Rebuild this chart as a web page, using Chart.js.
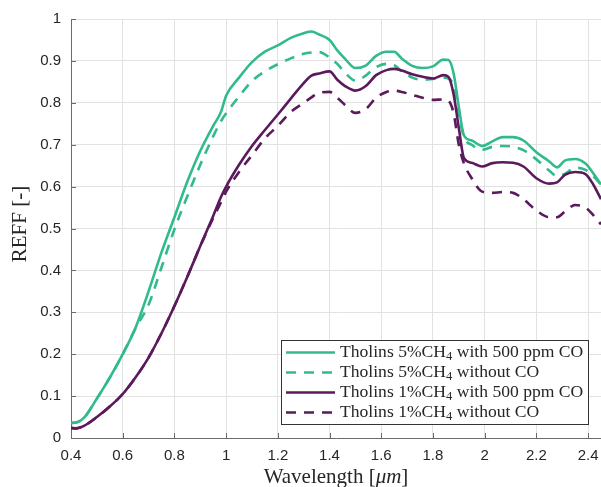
<!DOCTYPE html>
<html>
<head>
<meta charset="utf-8">
<script src="https://cdn.jsdelivr.net/npm/chart.js@4.4.1/dist/chart.umd.min.js"></script>
<style>
  html, body { margin: 0; padding: 0; background: #fff; }
  #wrap { width: 601px; height: 487px; }
</style>
</head>
<body>
<div id="wrap"><canvas id="reffChart" width="601" height="487"></canvas></div>
<script>
// wavelength grid [um] shared by the four curves
const wavelength = [0.40, 0.42, 0.45, 0.50, 0.55, 0.60, 0.65, 0.70, 0.75, 0.80, 0.85, 0.90, 0.95, 0.98, 1.00,
    1.05, 1.10, 1.15, 1.20, 1.25, 1.30, 1.33, 1.36, 1.40, 1.43, 1.46, 1.50, 1.54, 1.58, 1.62, 1.65, 1.68,
    1.72, 1.76, 1.80, 1.84, 1.86, 1.88, 1.90, 1.92, 1.95, 1.99, 2.03, 2.07, 2.11, 2.15, 2.20, 2.25, 2.28,
    2.31, 2.35, 2.39, 2.42, 2.45];

const tholins5WithCO = [0.036, 0.037, 0.048, 0.094, 0.144, 0.200, 0.264, 0.350, 0.443, 0.527, 0.612, 0.685, 0.745, 0.778, 0.817,
    0.860, 0.897, 0.922, 0.937, 0.955, 0.966, 0.970, 0.963, 0.950, 0.925, 0.905, 0.883, 0.889, 0.912, 0.922, 0.922, 0.905,
    0.888, 0.883, 0.887, 0.903, 0.902, 0.870, 0.790, 0.722, 0.710, 0.697, 0.708, 0.718, 0.718, 0.710, 0.682, 0.660, 0.646,
    0.662, 0.666, 0.655, 0.632, 0.605];

const tholins5NoCO = [0.036, 0.037, 0.048, 0.094, 0.144, 0.200, 0.262, 0.318, 0.407, 0.498, 0.577, 0.652, 0.720, 0.756, 0.775,
    0.815, 0.852, 0.875, 0.892, 0.906, 0.917, 0.920, 0.921, 0.908, 0.893, 0.872, 0.853, 0.865, 0.885, 0.893, 0.890, 0.875,
    0.860, 0.855, 0.857, 0.860, 0.858, 0.840, 0.775, 0.718, 0.700, 0.688, 0.695, 0.697, 0.695, 0.687, 0.665, 0.638, 0.625,
    0.630, 0.645, 0.640, 0.625, 0.605];

const tholins1WithCO = [0.024, 0.023, 0.029, 0.050, 0.075, 0.105, 0.145, 0.192, 0.250, 0.315, 0.385, 0.458, 0.530, 0.575, 0.600,
    0.652, 0.697, 0.735, 0.772, 0.810, 0.847, 0.865, 0.870, 0.875, 0.855, 0.840, 0.829, 0.840, 0.866, 0.878, 0.881, 0.877,
    0.868, 0.862, 0.858, 0.866, 0.862, 0.820, 0.740, 0.668, 0.657, 0.648, 0.656, 0.658, 0.657, 0.648, 0.620, 0.607, 0.610,
    0.628, 0.635, 0.630, 0.605, 0.570];

const tholins1NoCO = [0.024, 0.023, 0.029, 0.050, 0.075, 0.105, 0.145, 0.192, 0.250, 0.315, 0.385, 0.458, 0.525, 0.562, 0.588,
    0.635, 0.675, 0.715, 0.745, 0.778, 0.800, 0.813, 0.824, 0.826, 0.812, 0.795, 0.776, 0.785, 0.812, 0.826, 0.829, 0.826,
    0.819, 0.812, 0.807, 0.808, 0.805, 0.775, 0.700, 0.655, 0.620, 0.588, 0.585, 0.587, 0.585, 0.570, 0.543, 0.527, 0.527,
    0.540, 0.556, 0.550, 0.532, 0.510];

const seriesLabels = [
    'Tholins 5%CH₄ with 500 ppm CO',
    'Tholins 5%CH₄ without CO',
    'Tholins 1%CH₄ with 500 ppm CO',
    'Tholins 1%CH₄ without CO'
];

const xTicks = [0.4, 0.6, 0.8, 1, 1.2, 1.4, 1.6, 1.8, 2, 2.2, 2.4];
const yTicks = [0, 0.1, 0.2, 0.3, 0.4, 0.5, 0.6, 0.7, 0.8, 0.9, 1];

const GREEN = '#31bb8c';
const PURPLE = '#5a1a5b';
const AXIS_COLOR = '#6b6b6b';
const TEXT_COLOR = '#262626';
const GRID_COLOR = '#e2e2e2';
const DASH = [10, 8];
const SERIF = '"Liberation Serif"';

function toPoints(values) {
    return wavelength.map((x, i) => ({ x, y: values[i] }));
}

function makeDataset(label, values, color, dashed, order) {
    return {
        label,
        data: toPoints(values),
        borderColor: color,
        backgroundColor: color,
        borderWidth: 2.6,
        borderDash: dashed ? DASH : [],
        pointRadius: 0,
        fill: false,
        cubicInterpolationMode: 'monotone',
        order
    };
}

const decorPlugin = {
    id: 'decor',
    afterDraw(chart) {
        const { ctx, chartArea } = chart;
        drawInwardTicks(ctx, chart.scales.x, chart.scales.y, chartArea);
        drawAxisTitles(ctx);
        drawLegendBox(ctx, chart.data.datasets);
    }
};

function drawInwardTicks(ctx, xScale, yScale, area) {
    ctx.save();
    ctx.strokeStyle = AXIS_COLOR;
    ctx.lineWidth = 1;
    ctx.beginPath();
    xTicks.forEach(v => {
        const px = Math.round(xScale.getPixelForValue(v)) + 0.5;
        ctx.moveTo(px, area.bottom);
        ctx.lineTo(px, area.bottom - 5);
    });
    yTicks.forEach(v => {
        const py = Math.round(yScale.getPixelForValue(v)) + 0.5;
        ctx.moveTo(area.left, py);
        ctx.lineTo(area.left + 5, py);
    });
    ctx.stroke();
    ctx.restore();
}

function drawAxisTitles(ctx) {
    ctx.save();
    ctx.fillStyle = TEXT_COLOR;
    ctx.textBaseline = 'middle';

    // y title, rotated
    ctx.save();
    ctx.translate(20, 224);
    ctx.rotate(-Math.PI / 2);
    ctx.font = `21px ${SERIF}`;
    ctx.textAlign = 'center';
    ctx.fillText('REFF [-]', 0, 0);
    ctx.restore();

    // x title with italic unit
    const parts = [
        { text: 'Wavelength [', font: `21px ${SERIF}` },
        { text: 'μm', font: `italic 21px ${SERIF}` },
        { text: ']', font: `21px ${SERIF}` }
    ];
    let total = 0;
    parts.forEach(p => { ctx.font = p.font; p.w = ctx.measureText(p.text).width; total += p.w; });
    let x = 336 - total / 2;
    ctx.textAlign = 'left';
    parts.forEach(p => {
        ctx.font = p.font;
        ctx.fillText(p.text, x, 477);
        x += p.w;
    });
    ctx.restore();
}

function drawLabel(ctx, text, x, y) {
    const [before, after] = text.split('₄');
    ctx.font = `17.6px ${SERIF}`;
    ctx.fillText(before, x, y);
    x += ctx.measureText(before).width;
    ctx.font = `12.5px ${SERIF}`;
    ctx.fillText('4', x, y + 4);
    x += ctx.measureText('4').width;
    ctx.font = `17.6px ${SERIF}`;
    ctx.fillText(after, x, y);
}

function drawLegendBox(ctx, datasets) {
    const box = { left: 281.5, top: 340.5, right: 588.5, bottom: 424.5 };
    ctx.save();
    ctx.fillStyle = '#fff';
    ctx.fillRect(box.left, box.top, box.right - box.left, box.bottom - box.top);
    ctx.strokeStyle = '#333';
    ctx.lineWidth = 1;
    ctx.strokeRect(box.left, box.top, box.right - box.left, box.bottom - box.top);

    ctx.textBaseline = 'middle';
    ctx.textAlign = 'left';
    datasets.forEach((ds, i) => {
        const rowY = 352.5 + i * 20;
        ctx.strokeStyle = ds.borderColor;
        ctx.lineWidth = 2.6;
        ctx.setLineDash(ds.borderDash);
        ctx.beginPath();
        ctx.moveTo(286, rowY);
        ctx.lineTo(335, rowY);
        ctx.stroke();
        ctx.setLineDash([]);
        ctx.fillStyle = TEXT_COLOR;
        drawLabel(ctx, ds.label, 340, rowY);
    });
    ctx.restore();
}

const tickFont = { family: 'Liberation Sans', size: 15 };

new Chart(document.getElementById('reffChart'), {
    type: 'line',
    data: {
        datasets: [
            makeDataset(seriesLabels[0], tholins5WithCO, GREEN, false, 4),
            makeDataset(seriesLabels[1], tholins5NoCO, GREEN, true, 3),
            makeDataset(seriesLabels[2], tholins1WithCO, PURPLE, false, 2),
            makeDataset(seriesLabels[3], tholins1NoCO, PURPLE, true, 1)
        ]
    },
    options: {
        responsive: false,
        animation: false,
        layout: { padding: { top: 19, right: 0, left: 0, bottom: 0 } },
        plugins: {
            legend: { display: false },
            tooltip: { enabled: false }
        },
        scales: {
            x: {
                type: 'linear',
                min: 0.4,
                max: 2.45,
                afterBuildTicks: axis => { axis.ticks = xTicks.map(v => ({ value: v })); },
                afterFit: axis => {
                    axis.height = 49;
                    axis.paddingLeft = 0;
                    axis.paddingRight = 0;
                },
                grid: { color: GRID_COLOR, drawTicks: false },
                border: { color: AXIS_COLOR, width: 1 },
                ticks: {
                    padding: 9,
                    color: TEXT_COLOR,
                    font: tickFont,
                    maxRotation: 0,
                    autoSkip: false,
                    callback: v => String(v)
                }
            },
            y: {
                type: 'linear',
                min: 0,
                max: 1,
                afterBuildTicks: axis => { axis.ticks = yTicks.map(v => ({ value: v })); },
                afterFit: axis => {
                    axis.width = 71;
                    axis.paddingTop = 0;
                    axis.paddingBottom = 0;
                },
                grid: { color: GRID_COLOR, drawTicks: false },
                border: { color: AXIS_COLOR, width: 1 },
                ticks: {
                    padding: 10,
                    color: TEXT_COLOR,
                    font: tickFont,
                    autoSkip: false,
                    callback: v => String(v)
                }
            }
        }
    },
    plugins: [decorPlugin]
});
</script>
</body>
</html>
